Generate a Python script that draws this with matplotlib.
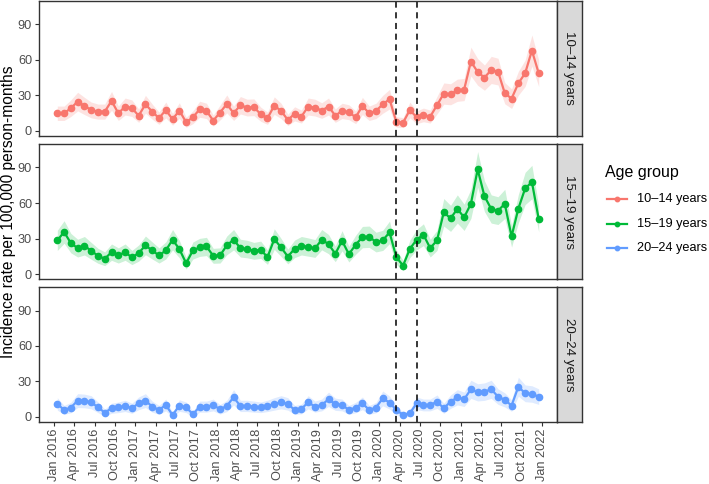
import numpy as np
import matplotlib
matplotlib.use("Agg")
import matplotlib.pyplot as plt
from matplotlib.lines import Line2D

plt.rcParams['font.family'] = ['Liberation Sans', 'DejaVu Sans']

# ---------------------------------------------------------------------
# data: monthly incidence rate per 100,000 person-months, Jan 2016..Dec 2021
# ---------------------------------------------------------------------
groups = ["10–14 years", "15–19 years", "20–24 years"]
colors = ["#F8766D", "#00BA38", "#619CFF"]

rate_10_14 = [14.7, 14.7, 19.0, 24.6, 20.9, 17.5, 16.1, 16.1, 25.2, 14.7,
              20.4, 19.0, 12.7, 22.3, 16.1, 10.5, 17.5, 9.6, 17.0, 7.1,
              11.3, 18.1, 16.7, 8.5, 15.3, 22.6, 14.7, 21.5, 19.5, 19.8,
              13.9, 10.5, 21.2, 16.7, 9.1, 14.2, 11.9, 20.4, 19.5, 17.0,
              20.4, 12.7, 16.7, 15.6, 11.3, 20.9, 14.7, 16.7, 22.3, 26.6,
              7.4, 6.8, 17.5, 11.3, 13.3, 11.9, 21.5, 31.4, 30.8, 34.2,
              34.8, 58.5, 49.7, 44.9, 51.4, 50.0, 31.7, 27.1, 40.1, 48.6,
              67.8, 48.6]
rate_15_19 = [28.5, 35.6, 26.2, 22.0, 24.0, 19.7, 15.5, 13.0, 18.6, 15.8,
              18.6, 14.1, 17.8, 24.3, 20.0, 15.8, 20.0, 29.1, 21.2, 9.3,
              20.0, 22.6, 23.4, 15.5, 15.8, 24.3, 29.1, 22.0, 21.2, 19.7,
              20.6, 14.4, 29.6, 22.6, 14.9, 21.4, 24.0, 22.9, 21.7, 29.1,
              25.4, 17.2, 28.2, 16.9, 24.8, 31.3, 31.6, 27.1, 28.5, 35.3,
              14.4, 7.3, 21.4, 29.1, 33.3, 22.0, 28.5, 52.2, 47.1, 55.0,
              48.0, 59.3, 88.4, 65.8, 55.0, 53.6, 59.3, 31.9, 55.3, 72.3,
              77.7, 46.6]
rate_20_24 = [10.8, 5.7, 7.7, 13.6, 13.3, 12.2, 7.9, 3.4, 7.1, 7.9,
              9.1, 7.1, 11.3, 13.6, 8.5, 5.7, 9.9, 1.4, 9.4, 7.9,
              2.0, 8.5, 8.5, 9.9, 6.2, 9.1, 16.4, 9.1, 9.1, 8.5,
              7.9, 9.1, 10.8, 12.2, 10.8, 5.7, 6.5, 12.2, 8.5, 9.9,
              14.7, 10.5, 9.9, 5.7, 7.7, 11.3, 5.7, 7.7, 15.5, 11.9,
              5.7, 1.4, 2.9, 11.3, 9.9, 9.9, 12.7, 7.1, 12.7, 16.4,
              14.7, 23.2, 20.6, 21.2, 23.2, 17.0, 14.2, 9.4, 25.4, 19.8,
              19.2, 17.0]

# half-widths of the 95% CI ribbons
ci_10_14 = [6.1, 6.1, 7.0, 7.9, 7.3, 6.7, 6.4, 6.4, 8.0, 6.1,
            7.2, 7.0, 5.7, 7.6, 6.4, 5.2, 6.7, 5.0, 6.6, 4.3,
            5.4, 6.8, 6.5, 4.7, 6.3, 7.6, 6.1, 7.4, 7.1, 7.1,
            6.0, 5.2, 7.4, 6.5, 4.8, 6.0, 5.5, 7.2, 7.1, 6.6,
            7.2, 5.7, 6.5, 6.3, 5.4, 7.3, 6.1, 6.5, 7.6, 8.3,
            4.4, 4.2, 6.7, 5.4, 5.8, 5.5, 7.4, 9.0, 8.9, 9.4,
            9.4, 12.2, 11.3, 10.7, 11.5, 11.3, 9.0, 8.3, 10.1, 11.2,
            13.2, 11.2]
ci_15_19 = [8.5, 9.5, 8.2, 7.5, 7.8, 7.1, 6.3, 5.8, 6.9, 6.4,
            6.9, 6.0, 6.8, 7.9, 7.2, 6.4, 7.2, 8.6, 7.4, 4.9,
            7.2, 7.6, 7.7, 6.3, 6.4, 7.9, 8.6, 7.5, 7.4, 7.1,
            7.3, 6.1, 8.7, 7.6, 6.2, 7.4, 7.8, 7.7, 7.5, 8.6,
            8.1, 6.6, 8.5, 6.6, 8.0, 9.0, 9.0, 8.3, 8.5, 9.5,
            6.1, 4.3, 7.4, 8.6, 9.2, 7.5, 8.5, 11.6, 11.0, 11.9,
            11.1, 12.3, 15.0, 13.0, 11.9, 11.7, 12.3, 9.0, 11.9, 13.6,
            14.1, 10.9]
ci_20_24 = [5.3, 3.8, 4.4, 5.9, 5.8, 5.6, 4.5, 3.0, 4.3, 4.5,
            4.8, 4.3, 5.4, 5.9, 4.7, 3.8, 5.0, 1.9, 4.9, 4.5,
            2.3, 4.7, 4.7, 5.0, 4.0, 4.8, 6.5, 4.8, 4.8, 4.7,
            4.5, 4.8, 5.3, 5.6, 5.3, 3.8, 4.1, 5.6, 4.7, 5.0,
            6.1, 5.2, 5.0, 3.8, 4.4, 5.4, 3.8, 4.4, 6.3, 5.5,
            3.8, 1.9, 2.7, 5.4, 5.0, 5.0, 5.7, 4.3, 5.7, 6.5,
            6.1, 7.7, 7.3, 7.4, 7.7, 6.6, 6.0, 4.9, 8.1, 7.1,
            7.0, 6.6]

rates = [rate_10_14, rate_15_19, rate_20_24]
cis = [ci_10_14, ci_15_19, ci_20_24]

# months since Jan 2016, points sit mid-month
month_idx = np.arange(len(rate_10_14)) + 0.5
# dashed markers: Mar 2020 and Jun 2020 (month index)
vlines = [50.5, 53.5]

tick_pos = np.arange(0, 73, 3)
tick_labels = [f"{m} {y}" for y in range(2016, 2023)
               for m in ["Jan", "Apr", "Jul", "Oct"]][:len(tick_pos)]

# ---------------------------------------------------------------------
W, H = 709, 484
fig = plt.figure(figsize=(W / 100, H / 100), dpi=100)

px_l, px_r = 39, 557
panel_px = [(1, 135.7), (144, 279.3), (287.3, 421.7)]
strip_w = 24.5
TXT = 9.2

for k, (top, bot) in enumerate(panel_px):
    ax = fig.add_axes([px_l / W, 1 - bot / H, (px_r - px_l) / W, (bot - top) / H])
    r = np.array(rates[k])
    c = np.array(cis[k])
    ax.fill_between(month_idx, r - c, r + c, color=colors[k], alpha=0.2, lw=0)
    ax.plot(month_idx, r, color=colors[k], lw=1.6, marker="o", ms=4.5)
    for v in vlines:
        ax.axvline(v, color="black", ls=(0, (4, 3)), lw=1.1)
    ax.set_xlim(-2.2, 74.2)
    ax.set_ylim(-4.3, 109.8)
    ax.set_yticks([0, 30, 60, 90])
    ax.tick_params(axis="y", length=3, width=0.8, color="#333333",
                   labelcolor="#4D4D4D", labelsize=TXT, pad=2)
    ax.set_xticks(tick_pos)
    if k == 2:
        ax.set_xticklabels(tick_labels, rotation=90)
        ax.tick_params(axis="x", length=3, width=0.8, color="#333333",
                       labelcolor="#4D4D4D", labelsize=TXT, pad=2)
    else:
        ax.tick_params(axis="x", length=0, labelbottom=False)
    for s in ax.spines.values():
        s.set_color("#333333")
        s.set_linewidth(1.0)

    # facet strip on the right
    sax = fig.add_axes([px_r / W, 1 - bot / H, strip_w / W, (bot - top) / H])
    sax.set_facecolor("#D9D9D9")
    sax.set_xticks([])
    sax.set_yticks([])
    for s in sax.spines.values():
        s.set_color("#333333")
        s.set_linewidth(1.0)
    sax.text(0.5, 0.5, groups[k], rotation=-90, ha="center", va="center",
             fontsize=9.6, color="#1A1A1A", transform=sax.transAxes)

fig.text(9 / W, 1 - 211.4 / H, "Incidence rate per 100,000 person-months",
         rotation=90, ha="center", va="center", fontsize=11.2, color="black")

# legend, drawn by hand so it sits where the reference has it
fig.text(605 / W, 1 - 173 / H, "Age group", ha="left", va="center",
         fontsize=11.5, color="black")
leg_y = [199.3, 224, 248.3]
for col, lab, yy in zip(colors, groups, leg_y):
    fy = 1 - yy / H
    fig.add_artist(Line2D([607 / W, 627 / W], [fy, fy], color=col, lw=1.6,
                          transform=fig.transFigure))
    fig.add_artist(Line2D([617 / W], [fy], color=col, marker="o", ms=3.2,
                          transform=fig.transFigure))
    fig.text(637 / W, fy, lab, ha="left", va="center", fontsize=9.2,
             color="black")

fig.savefig("out.png", dpi=100)
